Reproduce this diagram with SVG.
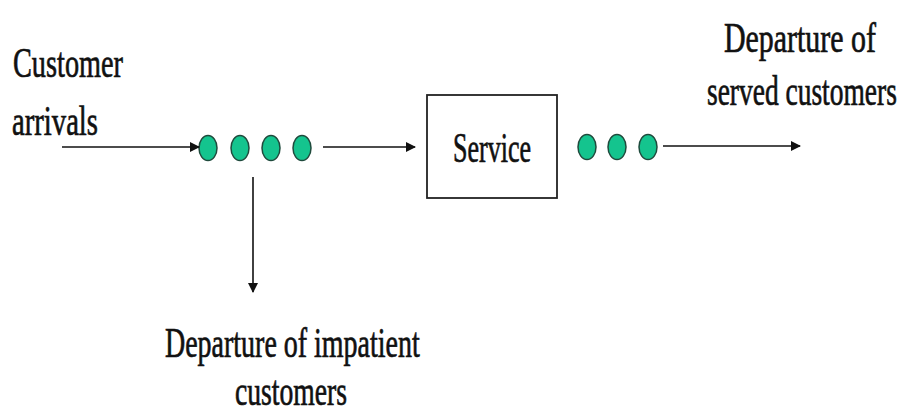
<svg xmlns="http://www.w3.org/2000/svg" width="905" height="419" viewBox="0 0 905 419">
<style>
.t{font-family:"Liberation Serif","Times New Roman",serif;font-size:42px;fill:#111;stroke:#111;stroke-width:0.7}
.c{stroke:#111;stroke-width:1.6;fill:none}
.dot{fill:#14c48e;stroke:#1f4a3c;stroke-width:1.5}
</style>
<defs>
<marker id="ah" viewBox="0 0 10 10" refX="9" refY="5" markerWidth="11" markerHeight="10" markerUnits="userSpaceOnUse" orient="auto">
<path d="M0,0 L10,5 L0,10 z" fill="#111"/>
</marker>
</defs>
<rect width="905" height="419" fill="#fff"/>
<g id="label-arrivals">
<text class="t" transform="translate(13,77) scale(0.674,1)">Customer</text>
<text class="t" transform="translate(12,135) scale(0.683,1)">arrivals</text>
</g>
<g id="queue">
<ellipse class="dot" cx="208" cy="148" rx="9" ry="12.5"/>
<ellipse class="dot" cx="240" cy="148" rx="9" ry="12.5"/>
<ellipse class="dot" cx="271" cy="148" rx="9" ry="12.5"/>
<ellipse class="dot" cx="302" cy="148" rx="9" ry="12.5"/>
</g>
<g id="service">
<rect x="427" y="95" width="130" height="103" fill="#fff" stroke="#222" stroke-width="1.8"/>
<text class="t" transform="translate(492,162) scale(0.62,1)" text-anchor="middle">Service</text>
</g>
<g id="served-queue">
<ellipse class="dot" cx="587" cy="147" rx="9" ry="12.5"/>
<ellipse class="dot" cx="617" cy="147" rx="9" ry="12.5"/>
<ellipse class="dot" cx="648" cy="147" rx="9" ry="12.5"/>
</g>
<g id="label-served">
<text class="t" transform="translate(724,52) scale(0.712,1)">Departure of</text>
<text class="t" transform="translate(707,105) scale(0.654,1)">served customers</text>
</g>
<g id="label-impatient">
<text class="t" transform="translate(165,357) scale(0.666,1)">Departure of impatient</text>
<text class="t" transform="translate(235,405) scale(0.658,1)">customers</text>
</g>
<g id="connectors">
<line class="c" x1="62" y1="147" x2="199" y2="147" marker-end="url(#ah)"/>
<line class="c" x1="323" y1="147" x2="415" y2="147" marker-end="url(#ah)"/>
<line class="c" x1="663" y1="146" x2="800" y2="146" marker-end="url(#ah)"/>
<line class="c" x1="253" y1="177" x2="253" y2="292" marker-end="url(#ah)"/>
</g>
</svg>
